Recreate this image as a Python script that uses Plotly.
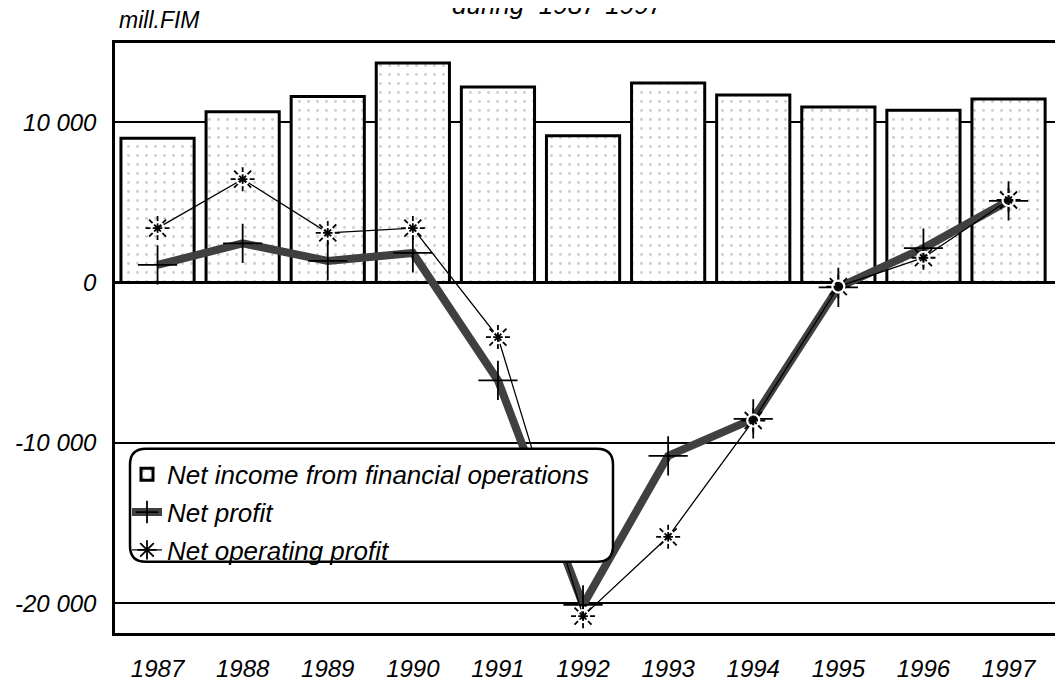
import plotly.graph_objects as go

years = ["1987", "1988", "1989", "1990", "1991", "1992", "1993", "1994", "1995", "1996", "1997"]
net_income_fin_ops = [9000, 10650, 11600, 13700, 12200, 9150, 12450, 11700, 10950, 10750, 11450]
net_profit = [1100, 2450, 1350, 1850, -6100, -20100, -10800, -8500, -300, 2150, 5100]
net_operating_profit = [3400, 6450, 3100, 3400, -3400, -20800, -15850, -8600, -250, 1550, 5150]

y_tickvals = [-20000, -10000, 0, 10000]
y_ticktext = ["-20 000", "-10 000", "0", "10 000"]

FONT = "Liberation Sans, Arial, Helvetica, sans-serif"

# page body adds an 8px offset; layout is compensated for it
OFF = 8
L, T = 115 - OFF, 43 - OFF
W, H = 948.0, 596.0

fig = go.Figure()

fig.add_trace(go.Bar(
    x=years, y=net_income_fin_ops,
    name="Net income from financial operations",
    width=0.86,
    marker=dict(
        color="white",
        line=dict(color="black", width=3),
        pattern=dict(shape=".", fgcolor="#999999", bgcolor="white", size=9, solidity=0.08),
    ),
    legendgroup="a",
))

fig.add_trace(go.Scatter(
    x=years, y=net_profit, name="Net profit",
    mode="lines+markers",
    line=dict(color="#404040", width=8),
    marker=dict(symbol="cross-thin", size=28, line=dict(color="black", width=1.8), color="black"),
    legendgroup="b",
))

fig.add_trace(go.Scatter(
    x=years, y=net_operating_profit, name="Net operating profit",
    mode="lines+markers",
    line=dict(color="black", width=1.3),
    marker=dict(symbol="asterisk-open", size=20, line=dict(color="black", width=1.8), color="black"),
    legendgroup="c",
))
fig.add_trace(go.Scatter(
    x=years, y=net_operating_profit, name="Net operating profit",
    mode="markers", showlegend=False,
    marker=dict(symbol="circle-open", size=12, line=dict(color="black", width=2.2), color="white"),
    legendgroup="c",
))

# rounded legend frame (reference pixel positions -> paper coords)
def px(x):
    return (x - 115) / W

def py(y):
    return (639 - y) / H

x0, x1 = px(130), px(613)
y0, y1 = py(567), py(453)
rx, ry = 16 / W, 16 / H
path = (f"M {x0+rx},{y1} L {x1-rx},{y1} Q {x1},{y1} {x1},{y1-ry} "
        f"L {x1},{y0+ry} Q {x1},{y0} {x1-rx},{y0} L {x0+rx},{y0} "
        f"Q {x0},{y0} {x0},{y0+ry} L {x0},{y1-ry} Q {x0},{y1} {x0+rx},{y1} Z")

fig.update_layout(
    width=1063 - OFF, height=682 - OFF,
    margin=dict(l=L, r=0, t=T, b=682 - OFF - T - int(H)),
    paper_bgcolor="white", plot_bgcolor="white",
    font=dict(family=FONT, size=24, color="black", style="italic"),
    showlegend=True,
    legend=dict(
        x=px(127), y=py(455), xanchor="left", yanchor="top",
        bgcolor="rgba(0,0,0,0)", borderwidth=0,
        font=dict(family=FONT, size=26, color="black", style="italic"),
        traceorder="grouped", tracegroupgap=1,
    ),
    shapes=[dict(type="path", path=path, xref="paper", yref="paper",
                 fillcolor="white", line=dict(color="black", width=2.5), layer="above")],
    annotations=[
        dict(text="mill.FIM", xref="paper", yref="paper", x=px(117), y=py(20),
             xanchor="left", yanchor="middle", showarrow=False,
             font=dict(family=FONT, size=23, style="italic")),
        dict(text="during  1987-1997", xref="paper", yref="paper", x=px(558), y=py(22),
             xanchor="center", yanchor="bottom", showarrow=False,
             font=dict(family=FONT, size=26, style="italic")),
    ],
)

fig.update_xaxes(
    type="category", range=[-0.5, 10.64],
    showgrid=False, showline=True, mirror=True, linecolor="black", linewidth=2.5,
    ticks="", ticklabelstandoff=12,
    tickfont=dict(family=FONT, size=24, style="italic"),
)
fig.update_yaxes(
    range=[-21850, 14940],
    tickvals=y_tickvals, ticktext=y_ticktext,
    showgrid=True, gridcolor="black", gridwidth=2,
    zeroline=True, zerolinecolor="black", zerolinewidth=2.5,
    showline=True, mirror=False, linecolor="black", linewidth=2.5,
    ticks="", ticklabelstandoff=11,
    tickfont=dict(family=FONT, size=24, style="italic"),
)

fig.write_html("out.html")
